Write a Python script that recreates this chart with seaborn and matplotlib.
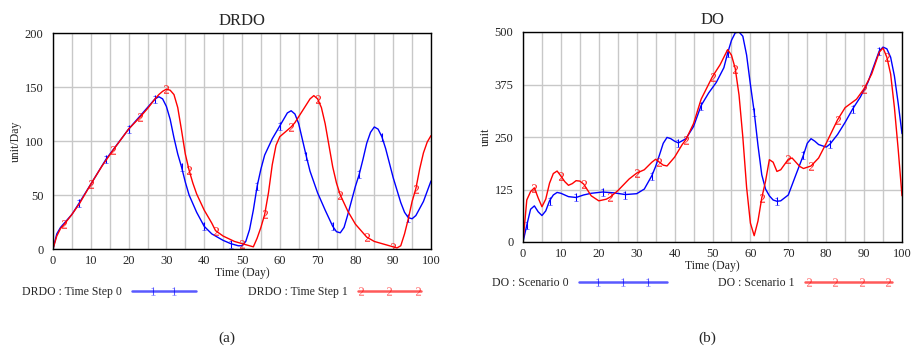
import numpy as np
import pandas as pd
import matplotlib
matplotlib.use("Agg")
import matplotlib.pyplot as plt
import seaborn as sns
from matplotlib.lines import Line2D
from matplotlib.legend_handler import HandlerBase

# ====================================
# DADOS
# ====================================

# DRDO - Time Step 0
drdo0_x = [0, 1, 2, 3, 5, 7, 10, 14, 17, 20, 23, 25, 27, 28, 29, 30, 31, 32, 33, 34,
           35, 36, 38, 40, 42, 45, 47, 49, 50, 51, 52, 53, 54, 55, 56, 58, 60, 61, 62,
           63, 64, 65, 66, 67, 68, 70, 72, 74, 75, 76, 77, 78, 80, 81, 82, 83, 84, 85,
           86, 87, 88, 90, 92, 93, 94, 95, 96, 98, 100]
drdo0_y = [0, 14, 20, 24, 32, 43, 60, 83, 97, 111, 123, 131, 139, 141, 139, 132, 120, 103, 88, 76,
           62, 50, 34, 21, 14, 8, 5, 3, 3, 7, 18, 36, 58, 74, 87, 102, 114, 120, 126,
           128, 125, 116, 101, 86, 72, 52, 36, 21, 16, 15, 20, 32, 58, 69, 83, 98, 108, 113,
           111, 104, 93, 66, 43, 34, 29, 28, 31, 44, 63]

# DRDO - Time Step 1
drdo1_x = [0, 1, 2, 3, 5, 7, 10, 13, 16, 20, 23, 25, 27, 28, 29, 30, 31, 32, 33, 34,
           35, 36, 37, 38, 40, 42, 43, 45, 48, 50, 52, 53, 54, 55, 56, 57, 58, 59, 60,
           62, 63, 64, 66, 68, 69, 70, 71, 72, 73, 74, 75, 76, 78, 80, 83, 85, 88, 90,
           91, 92, 93, 94, 95, 96, 97, 98, 99, 100]
drdo1_y = [0, 12, 19, 23, 32, 42, 60, 77, 92, 111, 122, 130, 139, 143, 146, 148, 147, 143, 131, 110,
           88, 73, 61, 51, 36, 24, 17, 12, 7, 5, 3, 2, 10, 20, 32, 52, 78, 96, 104,
           110, 113, 117, 128, 139, 142, 139, 131, 116, 96, 76, 61, 50, 35, 23, 11, 7, 4, 2,
           1, 3, 14, 28, 44, 56, 74, 89, 99, 105]

# DO - Scenario 0
do0_x = [0, 1, 2, 3, 4, 5, 6, 7, 8, 9, 10, 12, 14, 16, 18, 21, 24, 27, 30, 32,
         34, 35, 36, 37, 38, 39, 40, 41, 43, 45, 47, 49, 51, 53, 54, 55, 56, 57, 58,
         59, 60, 61, 62, 63, 64, 65, 66, 67, 68, 70, 72, 74, 75, 76, 77, 78, 80, 81,
         83, 85, 87, 89, 91, 93, 94, 95, 96, 97, 98, 99, 100]
do0_y = [0, 40, 78, 86, 72, 63, 74, 98, 112, 118, 116, 108, 106, 112, 116, 119, 117, 113, 115, 126,
         158, 180, 207, 235, 249, 246, 240, 236, 246, 275, 325, 355, 380, 415, 450, 480, 498, 500, 490,
         445, 375, 310, 230, 160, 126, 110, 100, 97, 98, 112, 160, 207, 235, 246, 240, 232, 226, 233,
         256, 285, 317, 345, 380, 430, 455, 464, 460, 440, 395, 330, 258]

# DO - Scenario 1
do1_x = [0, 1, 2, 3, 4, 5, 6, 7, 8, 9, 10, 11, 12, 13, 14, 15, 16, 17, 18, 20,
         22, 23, 25, 28, 30, 32, 34, 35, 36, 37, 38, 40, 42, 43, 45, 47, 50, 52, 54,
         55, 56, 57, 58, 59, 60, 61, 62, 63, 64, 65, 66, 67, 68, 70, 71, 73, 74, 76,
         78, 80, 83, 85, 88, 90, 92, 94, 95, 96, 97, 98, 99, 100]
do1_y = [0, 100, 120, 129, 105, 84, 102, 140, 163, 169, 157, 144, 135, 139, 146, 145, 138, 124, 110, 98,
         102, 107, 122, 150, 164, 172, 190, 197, 190, 183, 181, 202, 232, 244, 282, 340, 394, 422, 458,
         445, 413, 350, 250, 130, 45, 15, 50, 105, 145, 196, 190, 168, 172, 197, 200, 180, 175, 181,
         200, 235, 291, 320, 340, 365, 400, 452, 462, 440, 400, 320, 220, 110]

# posições dos números sobre as curvas
marcas_a0 = [0, 7, 14, 20, 27, 34, 40, 47, 54, 60, 67, 74, 81, 87, 94]
marcas_a1 = [3, 10, 16, 23, 30, 36, 43, 50, 56, 63, 70, 76, 83, 90, 96]
marcas_b0 = [1, 7, 14, 21, 27, 34, 41, 47, 54, 61, 67, 74, 81, 87, 94]
marcas_b1 = [3, 10, 16, 23, 30, 36, 43, 50, 56, 63, 70, 76, 83, 90, 96]

# ====================================
# ESTILO
# ====================================

sns.set_theme(style="white")
plt.rcParams["font.family"] = ["Liberation Serif", "DejaVu Serif"]
plt.rcParams["mathtext.fontset"] = "custom"
plt.rcParams["mathtext.rm"] = "Liberation Serif"
plt.rcParams["mathtext.it"] = "Liberation Serif"

AZUL = "#0000ff"
VERMELHO = "#ff0000"

fig = plt.figure(figsize=(9.13, 3.5), dpi=100)
ax_a = fig.add_axes([53 / 913, 1 - 249 / 350, 378 / 913, 216 / 350])
ax_b = fig.add_axes([523 / 913, 1 - 242 / 350, 379 / 913, 210 / 350])


def idx(xs, marcas):
    return [list(xs).index(m) for m in marcas]


def curva(ax, xs, ys, cor, simbolo, marcas):
    sns.lineplot(
        x=xs, y=ys, ax=ax, color=cor, linewidth=1.0,
        marker=simbolo, markevery=idx(xs, marcas),
        markersize=6, markeredgewidth=0,
        legend=False, sort=False
    )


def eixo(ax, titulo, ylabel, ymax, yticks):
    ax.set_xlim(0, 100)
    ax.set_ylim(0, ymax)
    ax.set_xticks(np.arange(0, 101, 10))
    ax.set_xticks(np.arange(0, 101, 5), minor=True)
    ax.set_yticks(yticks)
    ax.grid(which="major", color="#c8c8c8", linewidth=1.0)
    ax.grid(which="minor", axis="x", color="#c8c8c8", linewidth=1.0)
    ax.tick_params(axis="x", length=0, labelsize=9, pad=4)
    ax.tick_params(axis="y", length=0, labelsize=9, pad=7)
    for s in ax.spines.values():
        s.set_color("black")
        s.set_linewidth(1.0)
    ax.set_title(titulo, fontsize=12, pad=6)
    ax.set_xlabel("Time (Day)", fontsize=8.5, labelpad=0)
    ax.set_ylabel(ylabel, fontsize=8.5, labelpad=2)


# ====================================
# (a) DRDO
# ====================================

curva(ax_a, drdo0_x, drdo0_y, AZUL, "$1$", marcas_a0)
curva(ax_a, drdo1_x, drdo1_y, VERMELHO, "$2$", marcas_a1)
eixo(ax_a, "DRDO", "unit/Day", 200, [0, 50, 100, 150, 200])

# ====================================
# (b) DO
# ====================================

curva(ax_b, do0_x, do0_y, AZUL, "$1$", marcas_b0)
curva(ax_b, do1_x, do1_y, VERMELHO, "$2$", marcas_b1)
eixo(ax_b, "DO", "unit", 500, [0, 125, 250, 375, 500])

# ====================================
# LEGENDAS (estilo Vensim: texto, depois linha com números)
# ====================================


class Marcas(HandlerBase):
    def __init__(self, n, pad):
        super().__init__()
        self.n = n
        self.pad = pad

    def create_artists(self, legend, orig, xdescent, ydescent,
                       width, height, fontsize, trans):
        y = height / 2 - ydescent
        x0 = -xdescent
        linha = Line2D([x0, x0 + width], [y, y], color=orig.get_color(),
                       lw=orig.get_linewidth(), alpha=orig.get_alpha())
        p = self.pad * fontsize
        xm = np.linspace(x0 + p, x0 + width - p, self.n)
        numeros = Line2D(xm, [y] * self.n, ls="none", marker=orig.get_marker(),
                         ms=orig.get_markersize(), mew=0,
                         color=orig.get_color(), alpha=orig.get_alpha())
        linha.set_transform(trans)
        numeros.set_transform(trans)
        return [linha, numeros]


legendas = [
    ("DRDO : Time Step 0", AZUL, "$1$", 2, 1.8, 5.4, 22, 292),
    ("DRDO : Time Step 1", VERMELHO, "$2$", 3, 0.25, 5.35, 248, 292),
    ("DO : Scenario 0", AZUL, "$1$", 3, 1.6, 7.45, 492, 283),
    ("DO : Scenario 1", VERMELHO, "$2$", 4, 0.35, 7.45, 718, 283),
]

for rotulo, cor, simbolo, n, pad, comp, px, py in legendas:
    h = Line2D([], [], color=cor, lw=1.8, alpha=0.65, marker=simbolo, ms=6)
    fig.legend(
        [h], [rotulo], loc="center left",
        bbox_to_anchor=(px / 913, 1 - py / 350),
        frameon=False, markerfirst=False,
        borderpad=0, borderaxespad=0,
        handlelength=comp, handletextpad=0.85,
        handler_map={h: Marcas(n, pad)},
        prop={"size": 8.5, "family": "Liberation Serif"}
    )

fig.text(227 / 913, 1 - 338 / 350, "(a)", ha="center", va="center", fontsize=11)
fig.text(707 / 913, 1 - 338 / 350, "(b)", ha="center", va="center", fontsize=11)

plt.savefig("out.png", dpi=100)
plt.close()
